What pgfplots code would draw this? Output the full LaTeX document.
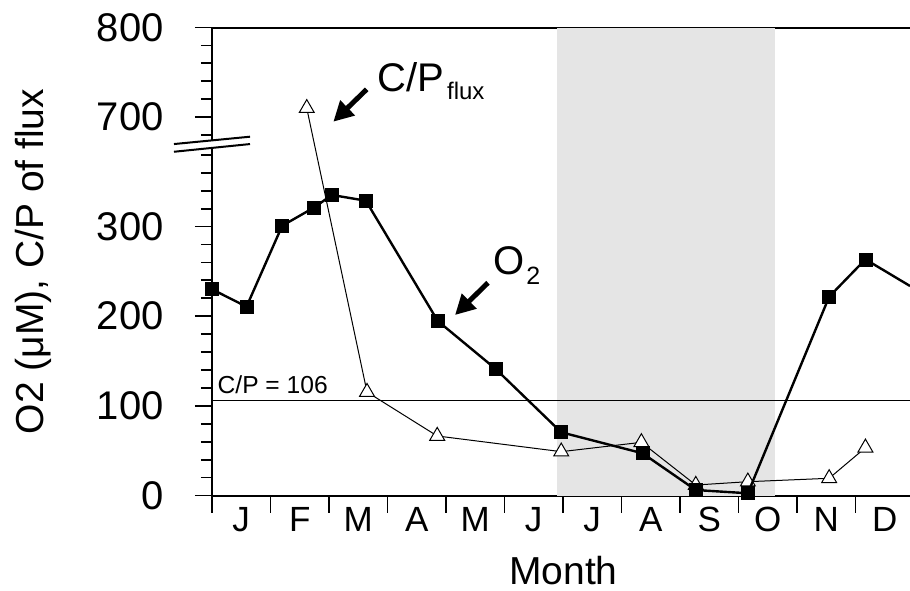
\documentclass[border=0pt]{standalone}
\usepackage{pgfplots}
\pgfplotsset{compat=1.18}
\usetikzlibrary{arrows.meta}
\usepackage{fontspec}
\setmainfont{Liberation Sans}
\begin{document}
\begin{tikzpicture}
\useasboundingbox (-106pt,-47.25pt) rectangle (349pt,247.75pt);
\begin{axis}[
  at={(0pt,0pt)}, anchor=south west,
  scale only axis, width=349pt, height=234pt,
  xmin=0, xmax=11.932, ymin=0, ymax=522,
  axis x line*=box, axis y line*=left,
  axis line style={line width=1pt},
  clip mode=individual,
  tick align=outside,
  xtick pos=bottom, ytick pos=left,
  major tick length=8.5pt, minor tick length=5.5pt,
  every tick/.style={black, line width=0.9pt},
  xtick={0,...,11},
  xticklabels={J,F,M,A,M,J,J,A,S,O,N,D},
  xticklabel style={font=\fontsize{17.5}{20}\selectfont, anchor=north, inner sep=0pt, xshift=14.625pt, yshift=2.9pt},
  ytick={0,100,200,300,422,522},
  yticklabels={0,100,200,300,700,800},
  minor ytick={20,40,60,80,120,140,160,180,220,240,260,280,320,340,360,380,402,442,462,482,502},
  yticklabel style={font=\fontsize{20}{22}\selectfont, anchor=east, inner sep=0pt, xshift=-15.5pt},
  /pgf/number format/assume math mode=true,
  xlabel={Month},
  xlabel style={font=\fontsize{19.5}{22}\selectfont, at={(axis description cs:0.5034,-0.1897)}, anchor=base},
  ylabel={O2 (μM), C/P of flux},
  ylabel style={font=\fontsize{19.5}{22}\selectfont, at={(axis description cs:-0.2421,0.5)}, anchor=base},
]
\fill[black!10] (axis cs:5.9,0) rectangle (axis cs:9.62,522);
\addplot[black, line width=0.5pt] coordinates {(0,106) (11.932,106)};
\node[anchor=base west, inner sep=0pt, font=\fontsize{12.3}{14}\selectfont] at (axis cs:0.09,114) {C/P = 106};
% C/P of flux (values above the break are shifted down by 278)
\addplot[black, line width=0.5pt, mark=triangle*, mark size=4.3pt,
  mark options={fill=white, draw=black, line width=0.5pt},
  y filter/.expression={y>500 ? y-278 : y}] coordinates {
  (1.62,710) (2.65,115.4) (3.85,66.4) (5.97,48.9) (7.34,59.3)
  (8.27,11.7) (9.16,15.4) (10.55,19.2) (11.17,53.3)
};
% O2
\addplot[black, line width=1.2pt, forget plot] coordinates {(11.17,263.4) (11.932,233.7)};
\addplot[black, line width=1.2pt, mark=square*, mark size=3.25pt,
  mark options={fill=black, line width=0.3pt}] coordinates {
  (0,230.0) (0.59,210.6) (1.20,300.9) (1.74,321.0) (2.05,335.2) (2.63,328.8)
  (3.86,194.6) (4.85,141.1) (5.97,70.5) (7.36,47.1) (8.27,6.1) (9.16,2.5)
  (10.55,221.7) (11.17,263.4)
};
% annotations
\draw[line width=2.5pt, -{Triangle[length=10pt,width=10pt]}] (axis cs:2.644,453.0) -- (axis cs:2.074,416.9);
\node[anchor=base west, inner sep=0pt, font=\fontsize{20}{22}\selectfont] at (axis cs:2.821,450.3) {C/P\hspace{1.5pt}\raisebox{-4pt}{\fontsize{12}{14}\selectfont flux}};
\draw[line width=2.5pt, -{Triangle[length=10pt,width=10pt]}] (axis cs:4.718,237.3) -- (axis cs:4.154,201.3);
\node[anchor=base west, inner sep=0pt, font=\fontsize{20}{22}\selectfont] at (axis cs:4.803,246.9) {O\hspace{1pt}\raisebox{-5pt}{\fontsize{12.5}{14}\selectfont 2}};
\coordinate (bA1) at (axis cs:-0.65,383.4);
\coordinate (bA2) at (axis cs:0.65,392);
\coordinate (bB1) at (axis cs:-0.65,392);
\coordinate (bB2) at (axis cs:0.65,400.2);
\end{axis}
\fill[white] (bA1) -- (bA2) -- (bB2) -- (bB1) -- cycle;
\draw[line width=1pt] (bA1) -- (bA2);
\draw[line width=1pt] (bB1) -- (bB2);
\end{tikzpicture}
\end{document}
